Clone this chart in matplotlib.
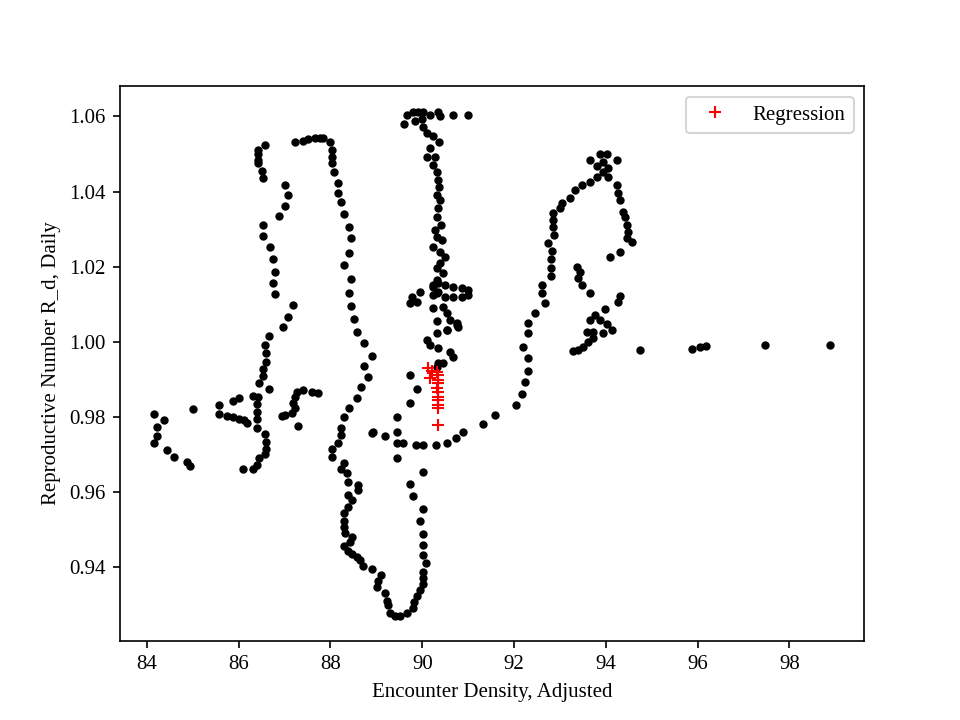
import numpy as np
import matplotlib
matplotlib.use("Agg")
import matplotlib.pyplot as plt

plt.rcParams['font.family'] = ['Liberation Serif', 'DejaVu Serif']

# daily values (encounter density, R_d)
x_left = [86.57, 86.42, 86.42, 86.42, 86.42, 86.51, 86.53,
          87.23, 87.40, 87.51, 87.66, 87.77, 87.84, 87.99,
          87.01, 87.07, 87.01, 86.88, 86.53, 86.53, 86.68, 86.75, 86.79, 86.75,
          86.79, 87.18, 87.07, 86.97, 86.66, 86.57, 86.59, 86.59, 86.53, 86.53,
          86.44, 86.66, 86.31, 86.42, 86.40, 86.40, 86.40, 86.40, 86.57, 86.59,
          86.59, 86.57, 86.44, 86.40, 86.31, 86.09,
          85.57, 85.57, 85.74, 85.88, 86.01, 86.12, 86.18, 85.88, 86.01, 85.00,
          84.15, 84.37, 84.22, 84.22, 84.15, 84.44, 84.59, 84.87, 84.94,
          87.27, 87.40, 87.60, 87.73, 87.23, 87.18, 87.23, 87.16, 87.01, 86.94, 87.29]
y_left = [1.0523, 1.0512, 1.0499, 1.0485, 1.0475, 1.0456, 1.0437,
          1.0531, 1.0536, 1.0541, 1.0544, 1.0544, 1.0544, 1.0531,
          1.0419, 1.0392, 1.0363, 1.0336, 1.0312, 1.0283, 1.0253, 1.0221, 1.0187, 1.0157,
          1.0128, 1.0099, 1.0067, 1.0040, 1.0016, 0.9992, 0.9971, 0.9947, 0.9928, 0.9909,
          0.9891, 0.9875, 0.9856, 0.9853, 0.9835, 0.9813, 0.9795, 0.9771, 0.9755, 0.9733,
          0.9715, 0.9701, 0.9691, 0.9672, 0.9661, 0.9661,
          0.9832, 0.9808, 0.9803, 0.9800, 0.9795, 0.9792, 0.9784, 0.9843, 0.9851, 0.9821,
          0.9808, 0.9792, 0.9773, 0.9749, 0.9731, 0.9712, 0.9693, 0.9680, 0.9669,
          0.9867, 0.9872, 0.9867, 0.9864, 0.9853, 0.9837, 0.9824, 0.9811, 0.9805, 0.9803, 0.9776]

x_mid = [88.03, 88.03, 88.03, 88.08, 88.16, 88.16, 88.23, 88.30, 88.40, 88.45,
         88.40, 88.30, 88.45, 88.40, 88.45, 88.51, 88.58, 88.73, 88.91, 88.73,
         88.82, 88.67, 88.58, 88.40, 88.30, 88.23, 88.23, 88.16, 88.03, 88.03,
         88.30, 88.23, 88.36, 88.38, 88.60, 88.60, 88.38, 88.47, 88.38, 88.30,
         88.30, 88.30, 88.32, 88.47, 88.43, 88.30, 88.38, 88.47, 88.58, 88.64,
         88.71, 88.91, 89.10, 89.04, 89.02, 89.19, 89.23, 89.26, 89.30, 89.41,
         89.52, 89.67, 89.80, 89.82, 89.89, 89.95, 90.02, 90.02, 90.02, 90.08,
         90.02, 90.02, 90.02, 89.95, 90.02, 89.80, 89.73, 90.02, 89.45,
         89.45, 89.58, 89.87, 90.02, 90.30, 90.54, 90.74, 90.89,
         89.73, 89.89, 89.73, 89.45, 89.45, 89.19, 88.93, 88.91]
y_mid = [1.0512, 1.0493, 1.0477, 1.0451, 1.0424, 1.0397, 1.0373, 1.0341, 1.0307, 1.0277,
         1.0237, 1.0205, 1.0168, 1.0131, 1.0096, 1.0061, 1.0027, 0.9997, 0.9963, 0.9936,
         0.9907, 0.9880, 0.9851, 0.9824, 0.9800, 0.9771, 0.9752, 0.9731, 0.9715, 0.9693,
         0.9677, 0.9661, 0.9651, 0.9627, 0.9619, 0.9605, 0.9592, 0.9579, 0.9560, 0.9544,
         0.9525, 0.9507, 0.9493, 0.9480, 0.9467, 0.9456, 0.9445, 0.9437, 0.9427, 0.9419,
         0.9405, 0.9397, 0.9381, 0.9365, 0.9349, 0.9331, 0.9312, 0.9299, 0.9280, 0.9272,
         0.9272, 0.9280, 0.9293, 0.9307, 0.9325, 0.9339, 0.9355, 0.9373, 0.9389, 0.9411,
         0.9432, 0.9459, 0.9488, 0.9523, 0.9555, 0.9589, 0.9621, 0.9653, 0.9691,
         0.9731, 0.9731, 0.9725, 0.9725, 0.9725, 0.9731, 0.9744, 0.9760,
         0.9912, 0.9875, 0.9837, 0.9800, 0.9760, 0.9749, 0.9760, 0.9757]

x_col = [89.60, 89.67, 89.80, 89.91, 90.02, 90.17, 90.35, 90.67, 91.00, 89.84,
         90.00, 90.39, 90.02, 90.11, 90.24, 90.37, 90.17, 90.11, 90.28, 90.24,
         90.32, 90.35, 90.37, 90.32, 90.39, 90.35, 90.32, 90.41, 90.28, 90.32,
         90.43, 90.24, 90.39, 90.50, 90.39, 90.32, 90.45, 90.32, 90.24, 90.35,
         90.24, 90.35, 90.50, 90.67, 90.87, 91.00, 91.00, 90.87, 90.67, 90.50,
         90.32, 90.24, 89.78, 89.73, 89.89, 89.95,
         90.24, 90.45, 90.54, 90.61, 90.76, 90.78, 90.32, 90.54, 90.32, 90.11,
         90.17, 90.35, 90.61, 90.67, 90.35, 90.32, 90.45, 90.54, 90.76]
y_col = [1.0581, 1.0603, 1.0611, 1.0613, 1.0611, 1.0605, 1.0611, 1.0605, 1.0603, 1.0587,
         1.0592, 1.0600, 1.0571, 1.0557, 1.0549, 1.0531, 1.0517, 1.0493, 1.0493, 1.0472,
         1.0453, 1.0432, 1.0413, 1.0392, 1.0379, 1.0357, 1.0333, 1.0312, 1.0299, 1.0280,
         1.0272, 1.0253, 1.0240, 1.0227, 1.0211, 1.0197, 1.0184, 1.0165, 1.0147, 1.0133,
         1.0152, 1.0157, 1.0152, 1.0147, 1.0144, 1.0139, 1.0125, 1.0120, 1.0120, 1.0120,
         1.0131, 1.0125, 1.0120, 1.0104, 1.0107, 1.0133,
         1.0091, 1.0093, 1.0077, 1.0059, 1.0051, 1.0040, 1.0056, 1.0032, 1.0024, 1.0005,
         0.9992, 0.9984, 0.9973, 0.9960, 0.9944, 0.9933, 0.9944, 1.0032, 1.0045]

x_right = [91.33, 91.59, 92.05, 92.18, 92.24, 92.31, 92.31, 92.20, 92.31, 92.31,
           92.46, 92.68, 92.61, 92.61, 92.81, 92.81, 92.81, 92.83, 92.74, 92.87,
           92.85, 92.85, 92.85, 93.01, 93.05, 93.22, 93.33, 93.49, 93.66, 93.81,
           93.94, 93.81, 94.05, 93.66, 93.88, 94.03, 94.25, 93.94,
           94.05, 94.25, 94.27, 94.31, 94.38, 94.42, 94.47, 94.49, 94.47, 94.58,
           94.31, 94.10,
           93.38, 93.44, 93.40, 93.49, 93.66,
           94.31, 94.27, 93.99, 93.77, 93.66, 93.88, 94.03, 94.14, 93.94, 93.73,
           93.59, 93.73, 93.62, 93.51, 93.40, 93.29, 94.75,
           95.88, 96.06, 96.19, 97.48, 98.89]
y_right = [0.9781, 0.9805, 0.9832, 0.9861, 0.9893, 0.9923, 0.9957, 0.9987, 1.0024, 1.0051,
           1.0077, 1.0104, 1.0131, 1.0152, 1.0176, 1.0197, 1.0221, 1.0243, 1.0264, 1.0285,
           1.0307, 1.0325, 1.0344, 1.0357, 1.0371, 1.0384, 1.0405, 1.0419, 1.0427, 1.0440,
           1.0453, 1.0467, 1.0464, 1.0485, 1.0499, 1.0501, 1.0485, 1.0480,
           1.0440, 1.0419, 1.0397, 1.0379, 1.0347, 1.0333, 1.0312, 1.0293, 1.0277, 1.0267,
           1.0240, 1.0227,
           1.0200, 1.0187, 1.0171, 1.0152, 1.0131,
           1.0123, 1.0107, 1.0088, 1.0072, 1.0059, 1.0059, 1.0048, 1.0032, 1.0024, 1.0027,
           1.0027, 1.0011, 1.0000, 0.9987, 0.9979, 0.9976, 0.9979,
           0.9981, 0.9987, 0.9989, 0.9992, 0.9992]

# regression points
x_reg = [90.13, 90.21, 90.17, 90.32, 90.35, 90.35, 90.35, 90.32, 90.35, 90.35,
         90.35, 90.35, 90.35, 90.35]
y_reg = [0.9931, 0.9923, 0.9904, 0.9920, 0.9912, 0.9899, 0.9891, 0.9877, 0.9867, 0.9853,
         0.9845, 0.9832, 0.9824, 0.9779]

x_all = np.array(x_left + x_mid + x_col + x_right)
y_all = np.array(y_left + y_mid + y_col + y_right)

fig = plt.figure(figsize=(6.4, 4.8), dpi=150)
plt.plot(x_all, y_all, 'ko', markersize=3)
plt.plot(x_reg, y_reg, 'r+', label='Regression')
plt.xlabel("Encounter Density, Adjusted")
plt.ylabel("Reproductive Number R_d, Daily")
plt.legend(loc='upper right')
plt.savefig("out.png", dpi=150)
